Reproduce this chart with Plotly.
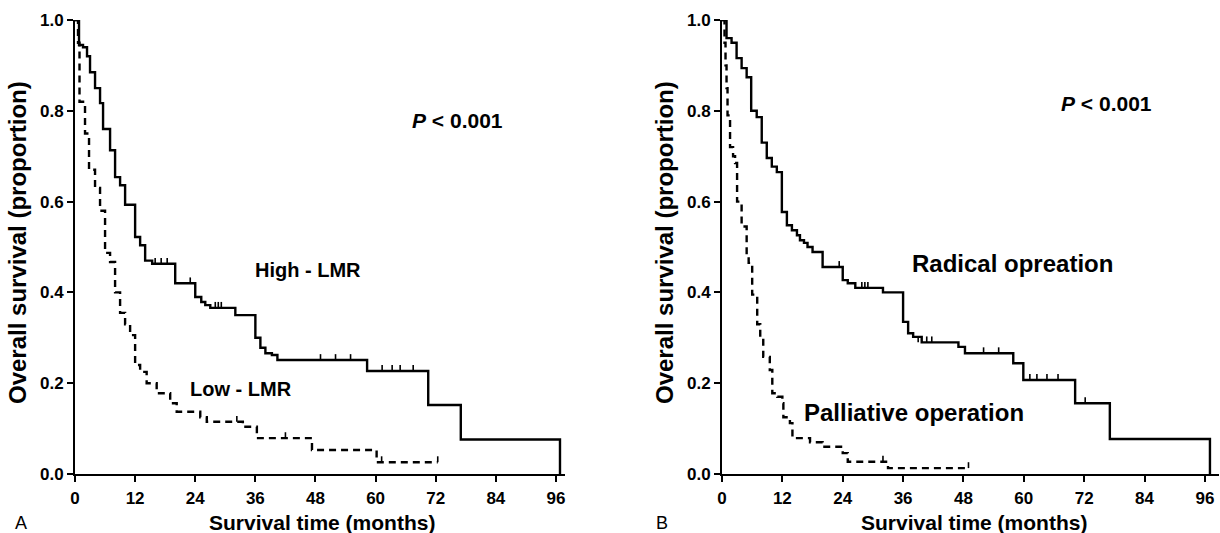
import plotly.graph_objects as go

# ---------------- data ----------------
months_ticks = [0, 12, 24, 36, 48, 60, 72, 84, 96]
surv_ticks = [0.0, 0.2, 0.4, 0.6, 0.8, 1.0]

# Panel A: High - LMR (solid)
hi_t = [0, 0.8, 1.6, 2.4, 3.0, 4.0, 5.0, 5.6, 7.0, 8.0, 9.0, 10.0, 12.0, 13.0, 14.0, 15.4,
        20.0, 24.0, 25.2, 26.0, 27.0, 32.0, 36.0, 37.0, 38.0, 39.3, 40.4, 58.3, 70.5, 77.0, 96.8]
hi_s = [1.0, 0.945, 0.94, 0.92, 0.885, 0.85, 0.817, 0.76, 0.713, 0.654, 0.636, 0.593, 0.522, 0.504, 0.47, 0.463,
        0.42, 0.39, 0.379, 0.372, 0.366, 0.35, 0.30, 0.278, 0.266, 0.262, 0.251, 0.227, 0.152, 0.076, 0.0]
hi_cens_t = [16.0, 17.2, 18.4, 23.0, 28.0, 28.6, 29.2, 49.0, 52.0, 55.0, 61.3, 63.3, 64.9, 67.5]
hi_cens_s = [0.463, 0.463, 0.463, 0.42, 0.366, 0.366, 0.366, 0.251, 0.251, 0.251, 0.227, 0.227, 0.227, 0.227]

# Panel A: Low - LMR (dashed)
lo_t = [0, 0.6, 0.9, 2.0, 2.8, 4.0, 5.0, 6.0, 7.0, 8.0, 9.0, 10.0, 11.0, 12.0, 13.0, 14.3,
        16.3, 19.0, 20.3, 25.0, 26.3, 33.5, 36.3, 47.3, 60.2, 72.4]
lo_s = [1.0, 0.95, 0.82, 0.75, 0.67, 0.63, 0.58, 0.487, 0.467, 0.40, 0.355, 0.33, 0.306, 0.24, 0.225, 0.20,
        0.178, 0.156, 0.137, 0.125, 0.115, 0.104, 0.079, 0.053, 0.026, 0.026]
lo_cens_t = [32.3, 42.0, 61.2, 72.4]
lo_cens_s = [0.115, 0.079, 0.026, 0.026]

# Panel B: Radical operation (solid)
ra_t = [0, 0.9, 1.9, 2.9, 3.9, 4.9, 5.8, 6.9, 7.9, 8.9, 9.9, 10.9, 11.9, 12.9, 13.9, 14.9, 15.5,
        16.3, 17.0, 18.0, 20.0, 24.0, 25.0, 26.5, 32.0, 36.0, 37.0, 38.0, 39.7, 47.0, 48.3,
        57.9, 59.9, 70.2, 77.1, 97.0]
ra_s = [1.0, 0.96, 0.95, 0.916, 0.894, 0.874, 0.80, 0.786, 0.73, 0.696, 0.677, 0.665, 0.577, 0.548,
        0.537, 0.526, 0.515, 0.509, 0.50, 0.489, 0.456, 0.427, 0.42, 0.41, 0.40, 0.335, 0.31, 0.302,
        0.29, 0.28, 0.266, 0.244, 0.207, 0.156, 0.077, 0.0]
ra_cens_t = [23.3, 27.8, 28.4, 29.0, 39.0, 40.7, 41.7, 52.0, 55.0, 61.2, 62.6, 64.6, 66.8, 72.2]
ra_cens_s = [0.456, 0.41, 0.41, 0.41, 0.29, 0.29, 0.29, 0.266, 0.266, 0.207, 0.207, 0.207, 0.207, 0.156]

# Panel B: Palliative operation (dashed)
pa_t = [0, 0.5, 0.7, 0.9, 1.1, 1.6, 2.2, 2.6, 3.0, 3.9, 4.9, 5.3, 6.0, 7.0, 7.6, 8.2, 9.5, 10.0,
        11.0, 12.0, 12.2, 13.5, 14.0, 17.5, 20.0, 24.0, 25.0, 33.0, 49.0]
pa_s = [1.0, 0.95, 0.90, 0.85, 0.79, 0.72, 0.70, 0.685, 0.60, 0.545, 0.48, 0.465, 0.395, 0.33, 0.30,
        0.258, 0.229, 0.178, 0.17, 0.156, 0.125, 0.112, 0.079, 0.07, 0.06, 0.046, 0.027, 0.013, 0.013]
pa_cens_t = [32.0, 49.0]
pa_cens_s = [0.027, 0.013]

# ---------------- layout helpers ----------------
W, H = 1220, 533
def fx(px):
    return px / W
def fy(py):
    return (H - py) / H

FONT = "Liberation Sans, Arial, sans-serif"
LW = 2.4
CENS_LEN = 0.013  # tick-mark length (axis units) for censored observations

fig = go.Figure()

def add_curve(t, s, xa, ya, dashed):
    fig.add_trace(go.Scatter(
        x=t, y=s, mode="lines", line_shape="hv",
        line=dict(color="black", width=LW, dash="7px,5px" if dashed else "solid"),
        xaxis=xa, yaxis=ya, showlegend=False, hoverinfo="skip"))

def add_cens(t, s, xa, ya):
    fig.add_trace(go.Scatter(
        x=t, y=s, mode="markers",
        marker=dict(size=1, color="rgba(0,0,0,0)"),
        error_y=dict(type="constant", value=CENS_LEN, symmetric=False, valueminus=0,
                     width=0, thickness=1.6, color="black"),
        xaxis=xa, yaxis=ya, showlegend=False, hoverinfo="skip"))

add_curve(hi_t, hi_s, "x", "y", False)
add_cens(hi_cens_t, hi_cens_s, "x", "y")
add_curve(lo_t, lo_s, "x", "y", True)
add_cens(lo_cens_t, lo_cens_s, "x", "y")
add_curve(ra_t, ra_s, "x2", "y2", False)
add_cens(ra_cens_t, ra_cens_s, "x2", "y2")
add_curve(pa_t, pa_s, "x2", "y2", True)
add_cens(pa_cens_t, pa_cens_s, "x2", "y2")

tickfont = dict(family=FONT, size=17, color="black", weight="bold")
common_x = dict(tickvals=months_ticks, ticktext=[str(v) for v in months_ticks],
                ticks="outside", ticklen=6, tickwidth=2, tickcolor="black",
                showline=True, linewidth=2, linecolor="black", showgrid=False,
                zeroline=False, tickfont=tickfont, fixedrange=True, ticklabelstandoff=2)
common_y = dict(tickvals=surv_ticks, ticktext=[f"{v:.1f}" for v in surv_ticks],
                range=[0, 1], ticks="outside", ticklen=6, tickwidth=2, tickcolor="black",
                showline=True, linewidth=2, linecolor="black", showgrid=False,
                zeroline=False, tickfont=tickfont, fixedrange=True,
                domain=[fy(474), fy(20)])

fig.update_layout(
    width=W, height=H, margin=dict(l=0, r=0, t=0, b=0, autoexpand=False),
    plot_bgcolor="white", paper_bgcolor="white",
    xaxis=dict(domain=[fx(75), fx(565)], range=[0, 97.8], anchor="y", **common_x),
    yaxis=dict(anchor="x", **common_y),
    xaxis2=dict(domain=[fx(722), fx(1219)], range=[0, 98.8], anchor="y2", **common_x),
    yaxis2=dict(anchor="x2", **common_y),
)

def ann(text, x, y, size, bold=True, angle=0, xanchor="center"):
    fig.add_annotation(text=text, x=fx(x), y=fy(y), xref="paper", yref="paper",
                       showarrow=False, xanchor=xanchor, yanchor="middle", textangle=angle,
                       font=dict(family=FONT, size=size, color="black",
                                 weight="bold" if bold else "normal"))

# axis titles
ann("Overall survival (proportion)", 17, 243, 24, angle=-90)
ann("Overall survival (proportion)", 664, 243, 24, angle=-90)
ann("Survival time (months)", 322, 522, 21)
ann("Survival time (months)", 974, 522, 21)

# in-plot labels
ann("<i>P</i> &lt; 0.001", 457, 120, 21)
ann("<i>P</i> &lt; 0.001", 1106, 103, 21)
ann("High - LMR", 308, 270, 20)
ann("Low - LMR", 241, 389, 20)
ann("Radical opreation", 1012, 263, 24)
ann("Palliative operation", 914, 412, 24)

# panel letters
ann("A", 21, 523, 18, bold=False)
ann("B", 662, 523, 18, bold=False)

fig.write_html("out.html")
